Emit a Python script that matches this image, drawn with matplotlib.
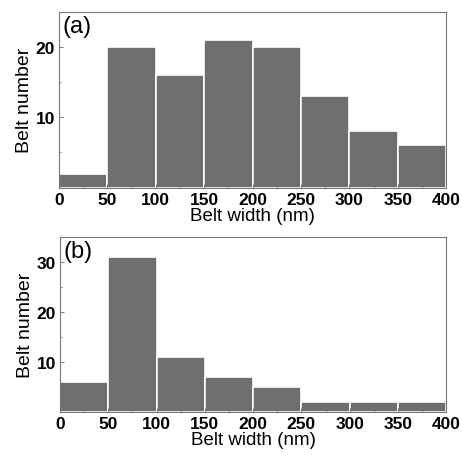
import numpy as np
import matplotlib
matplotlib.use("Agg")
import matplotlib.pyplot as plt
from matplotlib.ticker import MultipleLocator

# bin edges (nm) and counts
bin_left = [0, 50, 100, 150, 200, 250, 300, 350]
counts_a = [2, 20, 16, 21, 20, 13, 8, 6]
counts_b = [6, 31, 11, 7, 5, 2, 2, 2]
bin_width = 50

plt.rcParams['font.family'] = ['Liberation Sans', 'DejaVu Sans']

fig = plt.figure(figsize=(4.61, 4.60), dpi=100)
ax_a = fig.add_axes([0.128, 0.590, 0.840, 0.382])
ax_b = fig.add_axes([0.130, 0.1015, 0.838, 0.3805])

bar_color = '#6f6f6f'


def style(ax, counts, ymax, yticks, ymin_step, label):
    ax.bar(bin_left, counts, width=bin_width, align='edge',
           color=bar_color, edgecolor='white', linewidth=1.2)
    ax.set_xlim(0, 400)
    ax.set_ylim(0, ymax)
    ax.set_xticks(np.arange(0, 401, 50))
    ax.xaxis.set_minor_locator(MultipleLocator(25))
    ax.set_yticks(yticks)
    ax.yaxis.set_minor_locator(MultipleLocator(ymin_step))
    ax.tick_params(which='both', direction='in', color='#666666')
    ax.tick_params(which='major', length=3, width=0.6)
    ax.tick_params(which='minor', length=1.5, width=0.5)
    ax.tick_params(axis='both', labelsize=12.5, pad=3)
    for t in ax.get_xticklabels() + ax.get_yticklabels():
        t.set_fontweight('bold')
    for s in ax.spines.values():
        s.set_color('#777777')
        s.set_linewidth(0.8)
    ax.set_xlabel('Belt width (nm)', fontsize=13.5, labelpad=0)
    ax.set_ylabel('Belt number', fontsize=14, labelpad=2)
    ax.text(0.01, 0.985, label, transform=ax.transAxes, fontsize=17,
            va='top', ha='left')


style(ax_a, counts_a, 25, [10, 20], 5, '(a)')
style(ax_b, counts_b, 35, [10, 20, 30], 5, '(b)')

fig.savefig('out.png', dpi=100)
